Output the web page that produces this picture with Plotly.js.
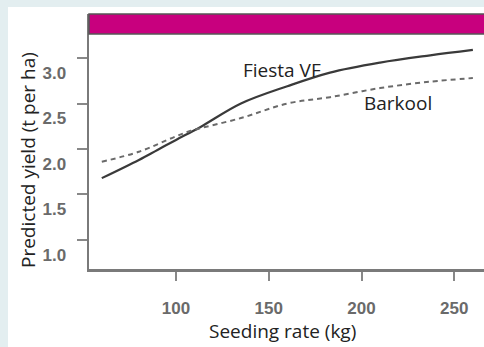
<!DOCTYPE html>
<html><head><meta charset="utf-8">
<script src="https://cdn.plot.ly/plotly-3.0.1.min.js"></script>
<style>
html,body{margin:0;padding:0;background:#e3eef0;overflow:hidden;width:484px;height:347px;}
#chart{position:absolute;left:8px;top:7px;width:476px;height:340px;}
</style></head>
<body><div id="chart"></div>
<script>
const seedingRate = [60, 80, 90, 100, 113, 135, 160, 183, 210, 237, 260];
const fiestaVF    = [1.68, 1.88, 1.99, 2.10, 2.24, 2.50, 2.69, 2.84, 2.95, 3.03, 3.09];
const barkoolRate = [60, 80, 100, 108, 135, 160, 183, 210, 237, 260];
const barkool     = [1.86, 1.97, 2.14, 2.20, 2.34, 2.50, 2.57, 2.67, 2.74, 2.78];
const xTicks = [100, 150, 200, 250];
const yTicks = [1.0, 1.5, 2.0, 2.5, 3.0];
const yTickText = ['1.0', '1.5', '2.0', '2.5', '3.0'];

const traces = [
  {x: seedingRate, y: fiestaVF, mode: 'lines', name: 'Fiesta VF',
   line: {color: '#3a3a3a', width: 2.2, shape: 'spline'}},
  {x: barkoolRate, y: barkool, mode: 'lines', name: 'Barkool',
   line: {color: '#6a6a6a', width: 2, dash: '5px,4px', shape: 'spline'}}
];

const tickFont = {family: 'Liberation Sans, Arial, sans-serif', size: 17, color: '#6a6a6a', weight: 'bold'};
const titleFont = {family: 'Open Sans, sans-serif', size: 19, color: '#222222'};
const layout = {
  width: 476, height: 340,
  margin: {l: 81, r: 0, t: 7, b: 78},
  paper_bgcolor: '#ffffff', plot_bgcolor: '#ffffff',
  showlegend: false,
  xaxis: {range: [53.1, 266], tickvals: xTicks, ticktext: xTicks.map(String),
          showgrid: false, zeroline: false, showline: true, linecolor: '#7a7a7a', linewidth: 2.5,
          ticks: 'outside', ticklen: 9, tickwidth: 2, tickcolor: '#888888',
          ticklabelstandoff: 13, tickfont: tickFont},
  yaxis: {range: [0.681, 3.484], tickvals: yTicks, ticktext: yTickText,
          showgrid: false, zeroline: false, showline: true, linecolor: '#7a7a7a', linewidth: 2.5,
          ticks: 'outside', ticklen: 10, tickwidth: 2, tickcolor: '#888888',
          ticklabelstandoff: 7, ticklabelshift: 15, tickfont: tickFont},
  shapes: [
    {type: 'rect', xref: 'paper', yref: 'paper', x0: 0, x1: 1.02, y0: 0.9216, y1: 1,
     fillcolor: '#c8007e', line: {color: '#555555', width: 1.5}, layer: 'above'}
  ],
  annotations: [
    {text: 'Fiesta VF', x: 157, y: 2.87, xref: 'x', yref: 'y', showarrow: false,
     xanchor: 'center', yanchor: 'middle', font: titleFont},
    {text: 'Barkool', x: 219.7, y: 2.51, xref: 'x', yref: 'y', showarrow: false,
     xanchor: 'center', yanchor: 'middle', font: titleFont},
    {text: 'Seeding rate (kg)', xref: 'paper', yref: 'paper',
     x: (282 - 89) / 395, y: -(331 - 269) / 255, xanchor: 'center', yanchor: 'middle',
     showarrow: false, font: titleFont},
    {text: 'Predicted yield (t per ha)', xref: 'paper', yref: 'paper',
     x: -(89 - 28) / 395, y: (269 - 160) / 255, xanchor: 'center', yanchor: 'middle',
     textangle: -90, showarrow: false, font: titleFont}
  ]
};

Plotly.newPlot('chart', traces, layout, {displayModeBar: false, staticPlot: true});
</script></body></html>
